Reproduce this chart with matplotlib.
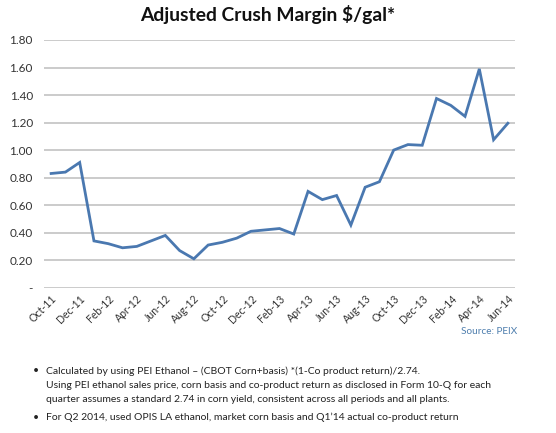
import matplotlib
matplotlib.use("Agg")
import matplotlib.pyplot as plt

months = ["Oct-11","Nov-11","Dec-11","Jan-12","Feb-12","Mar-12","Apr-12","May-12","Jun-12",
          "Jul-12","Aug-12","Sep-12","Oct-12","Nov-12","Dec-12","Jan-13","Feb-13","Mar-13",
          "Apr-13","May-13","Jun-13","Jul-13","Aug-13","Sep-13","Oct-13","Nov-13","Dec-13",
          "Jan-14","Feb-14","Mar-14","Apr-14","May-14","Jun-14"]
margin = [0.83,0.84,0.91,0.34,0.32,0.29,0.30,0.34,0.38,
          0.27,0.21,0.31,0.33,0.36,0.41,0.42,0.43,0.39,
          0.70,0.64,0.67,0.455,0.73,0.77,1.00,1.04,1.035,
          1.375,1.325,1.245,1.59,1.075,1.195]
yticks = [0,0.2,0.4,0.6,0.8,1.0,1.2,1.4,1.6,1.8]
ytick_labels = ["-","0.20","0.40","0.60","0.80","1.00","1.20","1.40","1.60","1.80"]

plt.rcParams['font.family'] = ['Lato', 'DejaVu Sans']

W, H = 556, 433
fig = plt.figure(figsize=(W/100, H/100), dpi=100)
ax = fig.add_axes([44/W, 1-287.7/H, (515-44)/W, (287.7-40)/H])

x = list(range(len(months)))
ax.plot(x, margin, color="#4a78b0", lw=2.0, solid_joinstyle="miter", zorder=3)
ax.set_xlim(-0.5, len(months)-0.5)
ax.set_ylim(0, 1.8)
ax.set_yticks(yticks)
ax.set_yticklabels(ytick_labels, fontsize=8.5, color="#333333")
ax.yaxis.grid(True, color="#bdbdbd", lw=1.1)
ax.set_axisbelow(True)
for s in ax.spines.values():
    s.set_visible(False)
ax.tick_params(axis="both", length=0)
ax.tick_params(axis="y", pad=8)
ax.set_xticks(x[::2])
ax.set_xticklabels(months[::2], rotation=45, ha="right", rotation_mode="anchor",
                   fontsize=7.6, color="#333333")
ax.tick_params(axis="x", pad=4)

fig.text(268/W, 1-15/H, "Adjusted Crush Margin $/gal*", ha="center", va="center",
         fontsize=13.9, fontweight="bold", color="#111111")
fig.text(517/W, 1-331/H, "Source: PEIX", ha="right", va="center", fontsize=7.2, color="#4f7fae")

bx, tx = 33/W, 46/W
fs = 7.5
fig.text(bx, 1-371/H, "•", ha="left", va="center", fontsize=fs, color="#222222")
fig.text(tx, 1-371/H, "Calculated by using PEI Ethanol – (CBOT Corn+basis) *(1-Co product return)/2.74.",
         ha="left", va="center", fontsize=fs, color="#222222")
fig.text(tx, 1-385/H, "Using PEI ethanol sales price, corn basis and co-product return as disclosed in Form 10-Q for each",
         ha="left", va="center", fontsize=fs, color="#222222")
fig.text(tx, 1-399/H, "quarter assumes a standard 2.74 in corn yield, consistent across all periods and all plants.",
         ha="left", va="center", fontsize=fs, color="#222222")
fig.text(bx, 1-417.5/H, "•", ha="left", va="center", fontsize=fs, color="#222222")
fig.text(tx, 1-417.5/H, "For Q2 2014, used OPIS LA ethanol, market corn basis and Q1\u201914 actual co-product return",
         ha="left", va="center", fontsize=fs, color="#222222")

fig.savefig("out.png", dpi=100)
